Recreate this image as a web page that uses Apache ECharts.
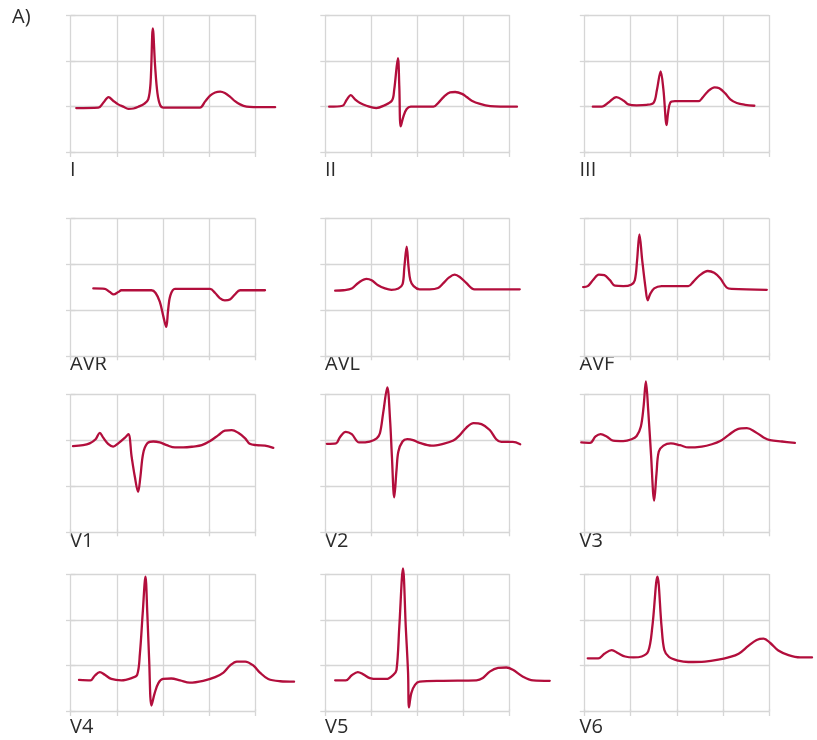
<!DOCTYPE html>
<html>
<head>
<meta charset="utf-8">
<title>12-lead ECG</title>
<script src="https://cdn.jsdelivr.net/npm/echarts@6/dist/echarts.min.js"></script>
<style>
  html, body { margin: 0; padding: 0; background: #ffffff; }
  #chart { width: 817px; height: 740px; }
</style>
</head>
<body>
<div id="chart"></div>
<script>
// Lead names, in reading order (3 columns x 4 rows)
const leadNames = ['I', 'II', 'III', 'AVR', 'AVL', 'AVF', 'V1', 'V2', 'V3', 'V4', 'V5', 'V6'];

// Axis ticks: time in large boxes, amplitude in large boxes
const timeTicks = [0, 1, 2, 3, 4];
const ampTicks = [0, 1, 2, 3];

// One heartbeat per lead, as [time, amplitude] pairs
const traceI = [[0.12,0.97],[0.60,0.98],[0.71,1.09],[0.82,1.21],[0.92,1.13],[1.03,1.05],[1.14,1.00],[1.25,0.95],[1.36,0.96],[1.47,1.00],[1.59,1.06],[1.68,1.16],[1.73,1.51],[1.78,2.71],[1.83,1.87],[1.88,1.29],[1.94,1.03],[2.01,0.98],[2.80,0.98],[2.91,1.11],[3.02,1.24],[3.13,1.31],[3.24,1.33],[3.34,1.30],[3.45,1.22],[3.56,1.12],[3.67,1.05],[3.81,1.00],[3.96,0.99],[4.43,0.99]];
const traceII = [[0.09,1.00],[0.38,1.02],[0.47,1.15],[0.56,1.25],[0.65,1.16],[0.76,1.08],[0.90,1.02],[1.11,0.97],[1.27,1.02],[1.45,1.13],[1.50,1.37],[1.58,2.06],[1.61,1.44],[1.64,0.57],[1.70,0.79],[1.77,0.95],[1.86,1.00],[2.35,1.00],[2.46,1.09],[2.58,1.22],[2.71,1.31],[2.82,1.32],[2.97,1.28],[3.07,1.21],[3.18,1.13],[3.36,1.06],[3.58,1.01],[3.80,1.00],[4.16,1.00]];
const traceIII = [[0.18,1.00],[0.38,1.00],[0.52,1.09],[0.69,1.21],[0.85,1.13],[0.95,1.05],[1.13,1.03],[1.35,1.04],[1.50,1.09],[1.57,1.37],[1.65,1.77],[1.71,1.37],[1.78,0.60],[1.81,0.86],[1.86,1.09],[1.96,1.12],[2.47,1.12],[2.56,1.20],[2.67,1.33],[2.82,1.42],[2.92,1.40],[3.05,1.29],[3.16,1.16],[3.30,1.08],[3.48,1.04],[3.68,1.02]];
const traceAVR = [[0.49,1.47],[0.74,1.46],[0.85,1.39],[0.93,1.34],[1.03,1.39],[1.10,1.43],[1.75,1.43],[1.84,1.37],[1.93,1.18],[2.01,0.85],[2.07,0.63],[2.11,0.99],[2.16,1.32],[2.26,1.46],[3.02,1.46],[3.13,1.37],[3.23,1.26],[3.34,1.21],[3.45,1.23],[3.56,1.34],[3.67,1.43],[4.21,1.43]];
const traceAVL = [[0.22,1.42],[0.40,1.43],[0.58,1.47],[0.72,1.59],[0.90,1.68],[1.01,1.65],[1.15,1.54],[1.30,1.47],[1.44,1.44],[1.59,1.47],[1.68,1.56],[1.72,1.94],[1.77,2.38],[1.81,1.94],[1.85,1.65],[1.92,1.52],[2.05,1.45],[2.27,1.45],[2.45,1.48],[2.56,1.58],[2.69,1.71],[2.81,1.77],[2.92,1.72],[3.06,1.59],[3.24,1.45],[4.22,1.45]];
const traceAVF = [[-0.03,1.50],[0.07,1.52],[0.19,1.66],[0.31,1.77],[0.43,1.76],[0.55,1.65],[0.66,1.53],[0.84,1.52],[1.01,1.55],[1.09,1.65],[1.14,2.09],[1.19,2.65],[1.25,2.09],[1.32,1.50],[1.37,1.21],[1.42,1.34],[1.51,1.47],[1.67,1.52],[2.25,1.52],[2.36,1.62],[2.50,1.76],[2.67,1.85],[2.81,1.81],[2.94,1.69],[3.08,1.49],[3.19,1.46],[3.95,1.44]];
const traceV1 = [[0.05,1.87],[0.27,1.89],[0.41,1.93],[0.54,2.02],[0.63,2.16],[0.70,2.06],[0.81,1.92],[0.92,1.86],[1.03,1.93],[1.17,2.05],[1.25,2.13],[1.32,1.64],[1.39,1.20],[1.46,0.87],[1.51,1.20],[1.57,1.71],[1.66,1.93],[1.79,1.97],[1.93,1.95],[2.08,1.89],[2.26,1.84],[2.44,1.84],[2.66,1.86],[2.84,1.89],[3.02,1.98],[3.20,2.11],[3.34,2.21],[3.49,2.22],[3.63,2.16],[3.78,2.04],[3.88,1.92],[4.03,1.89],[4.21,1.88],[4.39,1.83]];
const traceV2 = [[0.04,1.92],[0.24,1.93],[0.32,2.06],[0.45,2.18],[0.58,2.13],[0.74,1.95],[0.97,1.97],[1.12,2.04],[1.19,2.15],[1.26,2.59],[1.35,3.15],[1.41,2.44],[1.45,1.64],[1.50,0.75],[1.55,1.35],[1.59,1.75],[1.68,1.97],[1.78,2.02],[1.91,2.00],[2.05,1.94],[2.31,1.88],[2.56,1.92],[2.78,1.99],[2.92,2.11],[3.06,2.27],[3.22,2.37],[3.39,2.35],[3.57,2.22],[3.71,2.02],[3.82,1.96],[4.07,1.96],[4.23,1.91]];
const traceV3 = [[-0.07,1.95],[0.12,1.94],[0.24,2.08],[0.35,2.13],[0.48,2.08],[0.62,1.99],[0.84,1.98],[1.02,2.02],[1.13,2.09],[1.22,2.29],[1.28,2.73],[1.33,3.28],[1.38,2.66],[1.44,1.71],[1.51,0.68],[1.56,1.27],[1.61,1.75],[1.71,1.88],[1.87,1.93],[2.07,1.89],[2.25,1.84],[2.54,1.86],[2.76,1.91],[2.94,1.98],[3.12,2.11],[3.32,2.24],[3.52,2.26],[3.70,2.18],[3.88,2.06],[4.02,2.00],[4.28,1.97],[4.56,1.94]];
const traceV4 = [[0.18,0.69],[0.43,0.68],[0.52,0.78],[0.63,0.86],[0.74,0.80],[0.88,0.71],[1.10,0.68],[1.32,0.73],[1.44,0.80],[1.50,1.27],[1.56,2.14],[1.62,2.94],[1.66,2.14],[1.70,1.13],[1.75,0.13],[1.82,0.40],[1.90,0.62],[2.00,0.71],[2.18,0.72],[2.37,0.68],[2.58,0.63],[2.87,0.67],[3.13,0.75],[3.31,0.85],[3.45,1.00],[3.60,1.09],[3.78,1.09],[3.96,1.00],[4.10,0.85],[4.28,0.71],[4.54,0.66],[4.84,0.65]];
const traceV5 = [[0.22,0.68],[0.45,0.68],[0.58,0.79],[0.71,0.86],[0.83,0.81],[0.97,0.73],[1.15,0.71],[1.33,0.71],[1.48,0.80],[1.55,0.91],[1.61,1.85],[1.69,3.12],[1.75,1.85],[1.80,0.84],[1.82,0.09],[1.87,0.40],[1.95,0.58],[2.05,0.65],[2.56,0.67],[3.28,0.68],[3.42,0.73],[3.57,0.87],[3.75,0.95],[3.93,0.96],[4.07,0.91],[4.29,0.76],[4.51,0.68],[4.87,0.67]];
const traceV6 = [[0.07,1.16],[0.30,1.16],[0.43,1.26],[0.59,1.34],[0.73,1.27],[0.88,1.20],[1.06,1.18],[1.24,1.20],[1.38,1.31],[1.47,1.85],[1.58,2.94],[1.67,1.85],[1.73,1.34],[1.83,1.19],[2.03,1.11],[2.25,1.08],[2.61,1.09],[2.90,1.13],[3.12,1.18],[3.34,1.26],[3.55,1.43],[3.73,1.56],[3.88,1.59],[4.02,1.50],[4.20,1.33],[4.42,1.23],[4.67,1.18],[4.93,1.18]];

const traces = [traceI, traceII, traceIII, traceAVR, traceAVL, traceAVF,
                traceV1, traceV2, traceV3, traceV4, traceV5, traceV6];

// Panel layout (pixels)
const colLeft = [70.7, 325, 584.5];
const rowTop = [15, 218.3, 394.3, 574];
const rowLabelY = [170, 364.2, 541.2, 726.8];
const colLabelX = [70, 325, 579.5];
const panelW = 184.6;
const panelH = 137.5;
// traces may run past the boxed area, so they live on a wider, invisible
// grid sharing the same scale (extra room in boxes on each side)
const padX = 1;
const padY = 0.3;

const gridLine = { color: '#d6d6d6', width: 1.3 };
const traceColor = '#b20e3c';
const labelStyle = { fill: '#2b2b2b', fontSize: 20, fontFamily: 'Open Sans' };

const grids = [], xAxes = [], yAxes = [], series = [], texts = [];
const hidden = { show: false };

traces.forEach((data, i) => {
  const r = Math.floor(i / 3), c = i % 3;
  const tMin = timeTicks[0], tMax = timeTicks[timeTicks.length - 1];
  const aMin = ampTicks[0], aMax = ampTicks[ampTicks.length - 1];
  const cellW = panelW / (tMax - tMin), cellH = panelH / (aMax - aMin);

  // visible box with its grid lines and short overhanging ticks
  const g = grids.length;
  grids.push({ left: colLeft[c], top: rowTop[r], width: panelW, height: panelH });
  xAxes.push({
    gridIndex: g, type: 'value', min: tMin, max: tMax, interval: 1,
    axisLine: hidden, axisLabel: hidden,
    axisTick: { show: true, length: 4.5, lineStyle: gridLine },
    splitLine: { show: true, lineStyle: gridLine }
  });
  xAxes.push({
    gridIndex: g, type: 'value', position: 'top', min: tMin, max: tMax, interval: 1,
    axisLine: hidden, axisLabel: hidden,
    axisTick: { show: true, length: 2.5, lineStyle: gridLine },
    splitLine: hidden
  });
  yAxes.push({
    gridIndex: g, type: 'value', min: aMin, max: aMax, interval: 1,
    axisLine: hidden, axisLabel: hidden,
    axisTick: { show: true, length: 4.7, lineStyle: gridLine },
    splitLine: { show: true, lineStyle: gridLine }
  });
  yAxes.push({
    gridIndex: g, type: 'value', position: 'right', min: aMin, max: aMax, interval: 1,
    axisLine: hidden, axisLabel: hidden,
    axisTick: { show: true, length: 4.7, lineStyle: gridLine },
    splitLine: hidden
  });

  // trace grid: same scale, padded extent
  const h = grids.length;
  grids.push({
    left: colLeft[c] - padX * cellW, top: rowTop[r] - padY * cellH,
    width: panelW + 2 * padX * cellW, height: panelH + 2 * padY * cellH
  });
  const xi = xAxes.length, yi = yAxes.length;
  xAxes.push({ gridIndex: h, type: 'value', min: tMin - padX, max: tMax + padX, show: false, splitLine: hidden });
  yAxes.push({ gridIndex: h, type: 'value', min: aMin - padY, max: aMax + padY, show: false, splitLine: hidden });

  series.push({
    type: 'line', name: leadNames[i],
    xAxisIndex: xi, yAxisIndex: yi,
    data: data, showSymbol: false, clip: false,
    smooth: 0.35,
    lineStyle: { color: traceColor, width: 2.3, cap: 'round', join: 'round' },
    silent: true
  });

  texts.push({
    type: 'text', x: colLabelX[c], y: rowLabelY[r],
    style: Object.assign({ text: leadNames[i], verticalAlign: 'middle' }, labelStyle)
  });
});

texts.push({
  type: 'text', x: 12, y: 17,
  style: Object.assign({ text: 'A)', verticalAlign: 'middle' }, labelStyle)
});

const chart = echarts.init(document.getElementById('chart'), null, { renderer: 'canvas' });
chart.setOption({
  animation: false,
  backgroundColor: '#ffffff',
  grid: grids,
  xAxis: xAxes,
  yAxis: yAxes,
  series: series,
  graphic: texts
});
</script>
</body>
</html>
